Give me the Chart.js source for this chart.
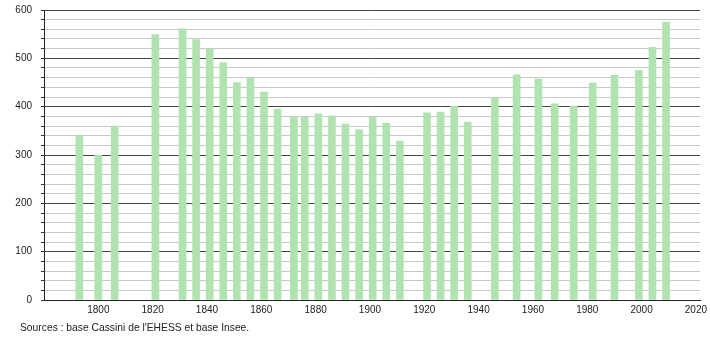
<!DOCTYPE html>
<html>
<head>
<meta charset="utf-8">
<script src="https://cdn.jsdelivr.net/npm/chart.js@4"></script>
<style>
  body { margin: 0; background: #fff; }
  .wrap { position: relative; width: 710px; height: 340px; }
  .source {
    position: absolute; left: 20px; top: 322px;
    font: 10.3px "Liberation Sans", Arial, sans-serif; color: #222;
  }
</style>
</head>
<body>
<div class="wrap">
  <canvas id="popChart" width="710" height="340"></canvas>
  <div class="source">Sources : base Cassini de l'EHESS et base Insee.</div>
</div>
<script>
const years = [1793, 1800, 1806, 1821, 1831, 1836, 1841, 1846, 1851, 1856, 1861, 1866,
  1872, 1876, 1881, 1886, 1891, 1896, 1901, 1906, 1911, 1921, 1926, 1931, 1936,
  1946, 1954, 1962, 1968, 1975, 1982, 1990, 1999, 2004, 2009];
const population = [339, 300, 360, 549, 561, 539, 519, 491, 450, 459, 430, 395,
  378, 378, 385, 381, 364, 352, 378, 366, 329, 387, 389, 401, 368,
  419, 466, 457, 406, 401, 449, 465, 475, 523, 575];
const xTicks = [1800, 1820, 1840, 1860, 1880, 1900, 1920, 1940, 1960, 1980, 2000, 2020];

document.addEventListener("DOMContentLoaded", function () {
  const el = document.getElementById("popChart");
  new Chart(el, {
    type: "bar",
    data: {
      datasets: [{
        data: years.map((y, i) => ({ x: y, y: population[i] })),
        backgroundColor: "#b0e3b0",
        barThickness: 7,
      }],
    },
    options: {
      responsive: false,
      animation: false,
      layout: { padding: { top: 10, right: 10, left: 0, bottom: 0 } },
      plugins: { legend: { display: false }, tooltip: { enabled: false } },
      scales: {
        x: {
          type: "linear",
          min: 1780,
          max: 2021.5,
          offset: false,
          grid: { display: false, drawTicks: false },
          border: { display: true, color: "#222", width: 1 },
          afterBuildTicks: (scale) => { scale.ticks = xTicks.map(v => ({ value: v })); },
          afterFit: (scale) => {
            scale.height = 40;
            scale.paddingLeft = 0;
            scale.paddingRight = 0;
          },
          ticks: {
            color: "#222",
            font: { family: "Liberation Sans", size: 10 },
            maxRotation: 0,
            autoSkip: false,
            padding: 4,
            callback: (v) => String(v),
          },
        },
        y: {
          min: 0,
          max: 600,
          afterFit: (scale) => {
            scale.width = 44;
            scale.paddingTop = 0;
            scale.paddingBottom = 0;
          },
          grid: {
            color: (ctx) => ctx.tick && ctx.tick.value % 100 === 0 ? "#444" : "#c8c8c8",
            tickColor: "#333",
            tickLength: (ctx) => ctx.tick && ctx.tick.value % 100 === 0 ? 5 : 3,
          },
          border: { display: true, color: "#222", width: 1 },
          ticks: {
            stepSize: 20,
            autoSkip: false,
            color: "#222",
            font: { family: "Liberation Sans", size: 10 },
            padding: 9,
            callback: (v) => v % 100 === 0 ? v : "",
          },
        },
      },
    },
  });
});
</script>
</body>
</html>
